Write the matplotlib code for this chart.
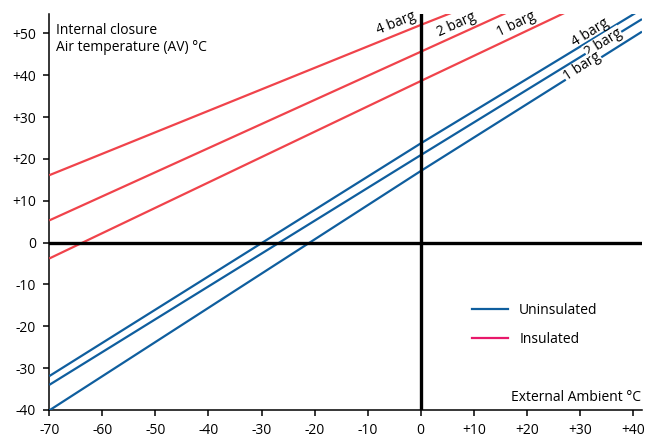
import numpy as np
import matplotlib
matplotlib.use("Agg")
import matplotlib.pyplot as plt
from matplotlib.lines import Line2D

# pressure settings of each line
labels = ["4 barg", "2 barg", "1 barg"]

# uninsulated lines: x points and closure temperatures
blue_x = [[-70, 0, 41.7], [-70, 0, 41.7], [-70, 0, 41.7]]
blue_y = [[-31.9, 23.7, 55.8], [-34.0, 20.9, 53.4], [-40.1, 17.1, 50.4]]

# insulated lines end at different ambient temperatures
red_x = [[-70, 0, 6.0], [-70, 0, 16.3], [-70, 0, 27.3]]
red_y = [[16.1, 52.0, 55.0], [5.3, 45.6, 55.0], [-3.8, 38.6, 55.0]]

x_ticks = [-70, -60, -50, -40, -30, -20, -10, 0, 10, 20, 30, 40]
y_ticks = [-40, -30, -20, -10, 0, 10, 20, 30, 40, 50]

blue = "#0f5e9e"
red = "#f0434b"
pink = "#e8186a"

plt.rcParams["font.family"] = ["Open Sans", "DejaVu Sans"]


def signed(v):
    return f"+{v}" if v > 0 else f"{v}"


def slope_angle(ax, xs, ys):
    p0 = ax.transData.transform((xs[0], ys[0]))
    p1 = ax.transData.transform((xs[1], ys[1]))
    return np.degrees(np.arctan2(p1[1] - p0[1], p1[0] - p0[0]))


def main():
    fig = plt.figure(figsize=(6.46, 4.40), dpi=100)
    ax = fig.add_axes([0.0763, 0.0682, 0.9175, 0.8998])
    ax.set_xlim(-70, 41.7)
    ax.set_ylim(-40, 54.6)

    for xs, ys in zip(blue_x, blue_y):
        ax.plot(xs, ys, color=blue, lw=1.6, solid_capstyle="butt", zorder=3)
    for xs, ys in zip(red_x, red_y):
        ax.plot(xs, ys, color=red, lw=1.6, solid_capstyle="butt", zorder=3)

    ax.axhline(0, color="black", lw=2.4, zorder=4)
    ax.axvline(0, color="black", lw=2.4, zorder=4)

    # red labels sit above the line ends
    red_lx = [-4.6, 6.7, 18.0]
    for xs, ys, lx, lab in zip(red_x, red_y, red_lx, labels):
        ly = np.interp(lx, xs, ys) + 2.7
        ang = slope_angle(ax, xs[:2], ys[:2])
        ax.text(lx, ly, lab, rotation=ang, rotation_mode="anchor",
                ha="center", va="center", fontsize=10, zorder=5)

    # blue labels, cutting through the lines
    blue_lx = [31.9, 34.4, 30.5]
    blue_off = [1.9, 0.1, 0.5]
    for i, (xs, ys, lx, lab) in enumerate(zip(blue_x, blue_y, blue_lx, labels)):
        ly = np.interp(lx, xs, ys) + blue_off[i]
        ang = slope_angle(ax, xs[:2], ys[:2])
        box = None if i == 0 else dict(facecolor="white", edgecolor="none", pad=0.3)
        ax.text(lx, ly, lab, rotation=ang, rotation_mode="anchor",
                ha="center", va="center", fontsize=10, zorder=5, bbox=box)

    ax.set_xticks(x_ticks)
    ax.set_xticklabels([signed(v) for v in x_ticks])
    ax.set_yticks(y_ticks)
    ax.set_yticklabels([signed(v) for v in y_ticks])
    ax.tick_params(direction="out", length=4.5, width=1.1, labelsize=10, pad=5)
    for s in ["top", "right"]:
        ax.spines[s].set_visible(False)
    for s in ["left", "bottom"]:
        ax.spines[s].set_linewidth(1.1)

    ax.text(0.012, 0.978, "Internal closure\nAir temperature (AV) °C",
            transform=ax.transAxes, ha="left", va="top", fontsize=10,
            linespacing=1.2)
    ax.text(0.998, 0.012, "External Ambient °C", transform=ax.transAxes,
            ha="right", va="bottom", fontsize=10)

    handles = [Line2D([], [], color=blue, lw=1.6),
               Line2D([], [], color=pink, lw=1.6)]
    ax.legend(handles, ["Uninsulated", "Insulated"], loc="upper left",
              bbox_to_anchor=(0.692, 0.303), frameon=False, fontsize=10,
              handlelength=2.6, handletextpad=0.8, labelspacing=1.05)

    fig.savefig("out.png", dpi=100)


if __name__ == "__main__":
    main()
